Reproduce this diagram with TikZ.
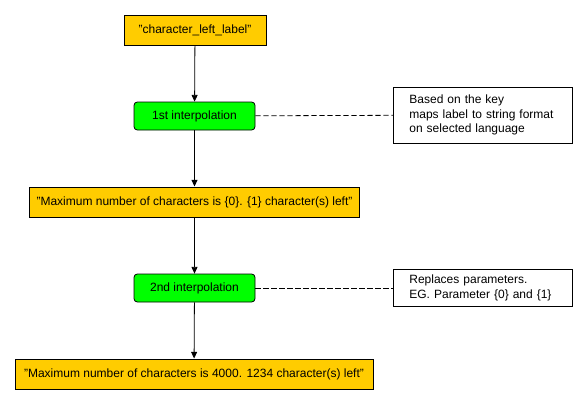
\documentclass[tikz,border=0pt]{standalone}
\usepackage{fontspec}
\setmainfont{Liberation Sans}
\usetikzlibrary{arrows.meta}
\definecolor{boxorange}{HTML}{FFCC00}
\definecolor{boxgreen}{HTML}{00FF00}
\begin{document}
\begin{tikzpicture}[x=0.75pt,y=-0.75pt,
  every node/.style={font=\fontsize{9pt}{11pt}\selectfont, inner sep=0pt},
  strbox/.style={draw, fill=boxorange, line width=0.75pt, minimum height=22.5pt},
  interp/.style={draw, fill=boxgreen, rounded corners=2.5pt, line width=0.6pt, minimum width=90.75pt, minimum height=21pt},
  note/.style={draw, fill=white, line width=0.6pt, align=left, text width=110pt, inner xsep=12pt, inner ysep=4pt},
  flow/.style={-{Triangle[length=5pt,width=4.5pt]}, line width=0.6pt},
  link/.style={dashed, line width=0.6pt, dash pattern=on 4pt off 2pt}]
\useasboundingbox (0,0) rectangle (582,404);
\node[strbox, minimum width=106.5pt] (s1) at (195,30) {"character\_left\_label"};
\node[interp] (i1) at (194.5,116) {1st interpolation};
\node[note, minimum width=134pt, minimum height=42pt, anchor=west] (n1) at (393,115) {Based on the key\\maps label to string format\\on selected language};
\node[strbox, minimum width=247pt] (s2) at (194.5,202) {"Maximum number of characters is \{0\}. \{1\} character(s) left"};
\node[interp] (i2) at (194.5,288) {2nd interpolation};
\node[note, minimum width=134pt, minimum height=27pt, anchor=west] (n2) at (393,288) {Replaces parameters.\\EG. Parameter \{0\} and \{1\}};
\node[strbox, minimum width=268.5pt] (s3) at (194,374) {"Maximum number of characters is 4000. 1234 character(s) left"};
\draw[flow] (s1) -- (i1);
\draw[flow] (i1) -- (s2);
\draw[flow] (s2) -- (i2);
\draw[flow] (i2) -- (s3);
\draw[link] (i1) -- (n1);
\draw[link] (i2) -- (n2);
\end{tikzpicture}
\end{document}
